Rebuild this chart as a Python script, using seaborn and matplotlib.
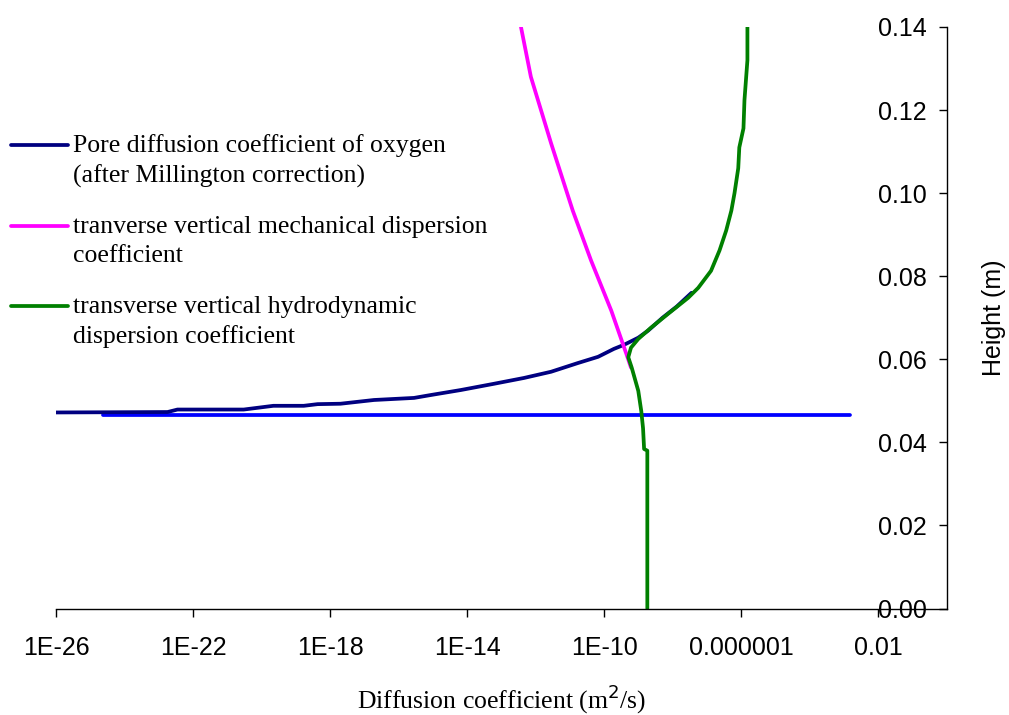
import numpy as np
import matplotlib
matplotlib.use("Agg")
import matplotlib.pyplot as plt
import seaborn as sns
from matplotlib.legend_handler import HandlerLine2D

# Pore diffusion coefficient of oxygen (after Millington correction)
pore_D = [1.0e-26, 1.8e-23, 3.5e-23, 3.0e-21, 2.2e-20, 1.7e-19, 4.3e-19, 2.0e-18,
          1.9e-17, 2.8e-16, 8.7e-16, 6.5e-15, 6.0e-14, 4.5e-13, 2.8e-12, 1.7e-11,
          6.6e-11, 1.9e-10, 3.8e-10, 9.8e-10, 1.9e-9, 5.0e-9, 1.3e-8, 3.5e-8]
pore_h = [0.0472, 0.0473, 0.0479, 0.0479, 0.0488, 0.0488, 0.0492, 0.0493,
          0.0502, 0.0507, 0.0514, 0.0526, 0.0541, 0.0555, 0.0570, 0.0591,
          0.0606, 0.0625, 0.0635, 0.0652, 0.0669, 0.0700, 0.0727, 0.0760]

# Transverse vertical mechanical dispersion coefficient
mech_D = [3.7e-13, 7.2e-13, 2.8e-12, 1.2e-11, 4.1e-11, 1.6e-10, 4.4e-10, 6.0e-10]
mech_h = [0.1400, 0.1280, 0.1120, 0.0958, 0.0838, 0.0717, 0.0613, 0.0580]

# Transverse vertical hydrodynamic dispersion coefficient
hydro_D = [1.8e-9, 1.8e-9, 1.45e-9, 1.35e-9, 1.2e-9, 9.8e-10, 6.3e-10, 5.0e-10,
           6.0e-10, 9.8e-10, 2.3e-9, 7.4e-9, 2.8e-8, 5.5e-8, 1.3e-7, 2.3e-7,
           3.6e-7, 5.1e-7, 6.3e-7, 8.1e-7, 8.7e-7, 1.15e-6, 1.23e-6, 1.5e-6, 1.5e-6]
hydro_h = [0.0000, 0.0380, 0.0384, 0.0434, 0.0475, 0.0524, 0.0580, 0.0605,
           0.0628, 0.0649, 0.0676, 0.0710, 0.0748, 0.0772, 0.0813, 0.0862,
           0.0910, 0.0958, 0.1000, 0.1060, 0.1110, 0.1156, 0.1224, 0.1320, 0.1400]

# Horizontal reference level
level_D = [2.3e-25, 1.5e-3]
level_h = [0.0467, 0.0467]

x_ticks = [1e-26, 1e-22, 1e-18, 1e-14, 1e-10, 1e-6, 1e-2]
x_tick_labels = ["1E-26", "1E-22", "1E-18", "1E-14", "1E-10", "0.000001", "0.01"]
y_ticks = [0.00, 0.02, 0.04, 0.06, 0.08, 0.10, 0.12, 0.14]
y_tick_labels = ["0.00", "0.02", "0.04", "0.06", "0.08", "0.10", "0.12", "0.14"]

series_labels = ["Pore diffusion coefficient of oxygen\n(after Millington correction)",
                 "tranverse vertical mechanical dispersion\ncoefficient",
                 "transverse vertical hydrodynamic\ndispersion coefficient"]

sns.set_theme(style="white")
plt.rcParams["font.family"] = ["Liberation Sans", "DejaVu Sans"]

W, H = 1009, 715
fig = plt.figure(figsize=(W / 100, H / 100), dpi=100)
ax_left, ax_right, ax_top, ax_bottom = 56, 947, 27, 608.5
ax = fig.add_axes([ax_left / W, (H - ax_bottom) / H,
                   (ax_right - ax_left) / W, (ax_bottom - ax_top) / H])
ax.set_xscale("log")

LW = 2.7
line_kw = dict(sort=False, estimator=None, lw=LW, ax=ax, solid_capstyle="round")
sns.lineplot(x=level_D, y=level_h, color="#0000FF", **line_kw)
sns.lineplot(x=pore_D, y=pore_h, color="#000080", **line_kw)
sns.lineplot(x=mech_D, y=mech_h, color="#FF00FF", **line_kw)
sns.lineplot(x=hydro_D, y=hydro_h, color="#008000", **line_kw)

ax.set_xlim(1e-26, 1)
ax.set_ylim(0, 0.14)
ax.set_xticks(x_ticks)
ax.set_xticklabels(x_tick_labels)
ax.xaxis.set_minor_locator(matplotlib.ticker.NullLocator())
ax.set_yticks(y_ticks)
ax.set_yticklabels(y_tick_labels)

for side in ("top", "right"):
    ax.spines[side].set_visible(False)
ax.spines["left"].set_position(("axes", 1.0))
for side in ("left", "bottom"):
    ax.spines[side].set_color("black")
    ax.spines[side].set_linewidth(1.0)

ax.tick_params(axis="both", which="major", direction="out", length=6, width=1,
               color="black", labelsize=18, labelcolor="black",
               left=True, bottom=True)
ax.tick_params(axis="y", pad=8.5)
ax.tick_params(axis="x", pad=14)

ax.set_xlabel("Diffusion coefficient (m$^2$/s)", family="Liberation Serif",
              fontsize=18.5, color="black")
ax.xaxis.set_label_coords(0.5, -0.127)
ax.set_ylabel("Height (m)", fontsize=18, color="black")
ax.yaxis.set_label_coords(1.066, 0.5)


class FirstRowLine(HandlerLine2D):
    """Legend line drawn level with the first row of a two-row label."""

    def __init__(self, shift, **kw):
        super().__init__(**kw)
        self.shift = shift

    def create_artists(self, legend, orig_handle, xdescent, ydescent, width,
                       height, fontsize, trans):
        artists = super().create_artists(legend, orig_handle, xdescent, ydescent,
                                         width, height, fontsize, trans)
        for a in artists:
            a.set_ydata(np.asarray(a.get_ydata(), dtype=float) + self.shift)
        return artists


lines = ax.get_lines()[1:4]
LEG_FS = 18.5
leg = ax.legend(lines, series_labels, loc="upper left",
                bbox_to_anchor=(11 / W, 1 - 134 / H), bbox_transform=fig.transFigure,
                frameon=False, handlelength=2.2, handletextpad=0.22,
                borderpad=0, borderaxespad=0, labelspacing=1.1,
                prop={"family": "Liberation Serif", "size": LEG_FS},
                handler_map={matplotlib.lines.Line2D: FirstRowLine(shift=11.2)})
for t in leg.get_texts():
    t.set_linespacing(1.42)
    t.set_color("black")

fig.savefig("out.png", dpi=100)
